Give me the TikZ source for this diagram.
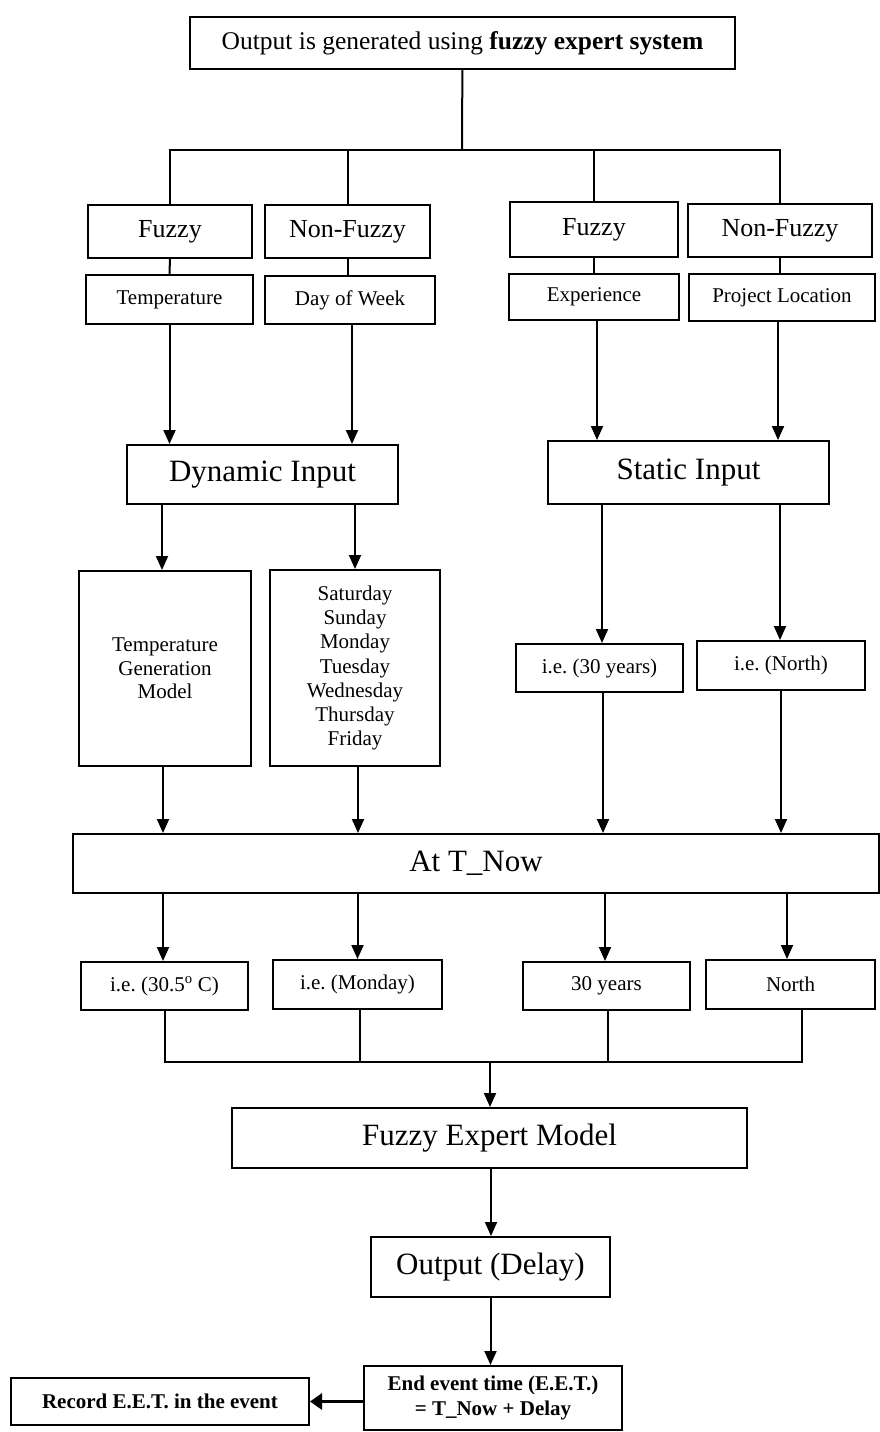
\documentclass[tikz,border=0pt]{standalone}
\usepackage{fontspec}
\setmainfont{Liberation Serif}
\usetikzlibrary{arrows.meta}
\frenchspacing
\tikzset{
  box/.style={draw, line width=2pt, inner sep=0pt, align=center, fill=white},
  big/.style={font=\fontsize{31}{34}\selectfont},
  mid/.style={font=\fontsize{26}{30}\selectfont},
  small/.style={font=\fontsize{21}{24.3}\selectfont},
  link/.style={line width=2pt},
  arr/.style={line width=2pt, -{Triangle[length=14pt,width=12pt]}},
  thickarr/.style={line width=3pt, -{Triangle[length=12pt,width=16pt]}}
}
\begin{document}
\begin{tikzpicture}[x=1pt, y=-1pt]
\useasboundingbox (0,0) rectangle (880,1432);

% top
\node[box, font=\fontsize{25.5}{29}\selectfont, minimum width=545pt, minimum height=52pt] (top) at (462.5,43)
  {Output is generated using \textbf{fuzzy expert system}};

% categories
\node[box, mid, minimum width=164pt, minimum height=53pt] (f1) at (170,231.5) {Fuzzy};
\node[box, mid, minimum width=165pt, minimum height=53pt] (nf1) at (347.5,231.5) {Non-Fuzzy};
\node[box, mid, minimum width=168pt, minimum height=55pt] (f2) at (594,229.5) {Fuzzy};
\node[box, mid, minimum width=184pt, minimum height=53pt] (nf2) at (780,230.5) {Non-Fuzzy};

% variables
\node[box, small, minimum width=167pt, minimum height=49pt] (temp) at (169.5,299.5) {Temperature};
\node[box, small, minimum width=170pt, minimum height=48pt] (dow) at (350,300) {Day of Week};
\node[box, small, minimum width=170pt, minimum height=46pt] (exp) at (594,297) {Experience};
\node[box, small, minimum width=186pt, minimum height=47pt] (ploc) at (782,297.5) {Project Location};

% input kinds
\node[box, big, minimum width=271pt, minimum height=59pt] (dyn) at (262.5,474.5) {Dynamic Input};
\node[box, big, minimum width=281pt, minimum height=63pt] (stat) at (688.5,472.5) {Static Input};

% input sources
\node[box, font=\fontsize{21}{23.3}\selectfont, minimum width=172pt, minimum height=195pt] (tgm) at (165,668.5)
  {Temperature\\Generation\\Model};
\node[box, small, minimum width=170pt, minimum height=196pt] (days) at (355,668)
  {Saturday\\Sunday\\Monday\\Tuesday\\Wednesday\\Thursday\\Friday};
\node[box, small, minimum width=167pt, minimum height=48pt] (ie30) at (599.5,668) {i.e. (30 years)};
\node[box, small, minimum width=168pt, minimum height=49pt] (ien) at (781,665.5) {i.e. (North)};

% current time
\node[box, big, minimum width=806pt, minimum height=59pt] (now) at (476,863.5) {At T\_Now};

% sampled values
\node[box, small, minimum width=167pt, minimum height=48pt] (c305) at (164.5,986) {i.e. (30.5\textsuperscript{o} C)};
\node[box, small, minimum width=169pt, minimum height=49pt] (mon) at (357.5,984.5) {i.e. (Monday)};
\node[box, small, minimum width=167pt, minimum height=48pt] (y30) at (606.5,986) {30 years};
\node[box, small, minimum width=169pt, minimum height=49pt] (north) at (790.5,984.5) {North};

% model and output
\node[box, big, minimum width=515pt, minimum height=60pt] (fem) at (489.5,1138) {Fuzzy Expert Model};
\node[box, big, minimum width=239pt, minimum height=60pt] (out) at (490.5,1267) {Output (Delay)};
\node[box, font=\fontsize{21}{25}\selectfont\bfseries, minimum width=258pt, minimum height=64pt] (eet) at (493,1398)
  {End event time (E.E.T.)\\= T\_Now + Delay};
\node[box, font=\fontsize{21}{25}\selectfont\bfseries, minimum width=298pt, minimum height=47pt] (rec) at (160,1401.5)
  {Record E.E.T. in the event};

% tree from the top box
\coordinate (bus1) at (462,150);
\draw[link] (top) -- (bus1);
\draw[link] (f1.north) |- (bus1);
\draw[link] (nf1.north) |- (bus1);
\draw[link] (f2.north) |- (bus1);
\draw[link] (nf2.north) |- (bus1);

\draw[link] (f1) -- (temp);
\draw[link] (nf1.south) -- (nf1.south |- dow.north);
\draw[link] (f2) -- (exp);
\draw[link] (nf2.south) -- (nf2.south |- ploc.north);

% into the input kinds
\draw[arr] (temp.south) -- (temp.south |- dyn.north);
\draw[arr] ([xshift=2pt]dow.south) -- ([xshift=2pt]dow.south |- dyn.north);
\draw[arr] ([xshift=3pt]exp.south) -- ([xshift=3pt]exp.south |- stat.north);
\draw[arr] ([xshift=-4pt]ploc.south) -- ([xshift=-4pt]ploc.south |- stat.north);

% out of the input kinds
\draw[arr] ([xshift=-3pt]tgm.north |- dyn.south) -- ([xshift=-3pt]tgm.north);
\draw[arr] (days.north |- dyn.south) -- (days.north);
\draw[arr] ([xshift=2.5pt]ie30.north |- stat.south) -- ([xshift=2.5pt]ie30.north);
\draw[arr] ([xshift=-1pt]ien.north |- stat.south) -- ([xshift=-1pt]ien.north);

% into the current time box
\draw[arr] ([xshift=-2pt]tgm.south) -- ([xshift=-2pt]tgm.south |- now.north);
\draw[arr] ([xshift=3pt]days.south) -- ([xshift=3pt]days.south |- now.north);
\draw[arr] ([xshift=3.5pt]ie30.south) -- ([xshift=3.5pt]ie30.south |- now.north);
\draw[arr] (ien.south) -- (ien.south |- now.north);

% out of the current time box
\draw[arr] ([xshift=-1.5pt]c305.north |- now.south) -- ([xshift=-1.5pt]c305.north);
\draw[arr] (mon.north |- now.south) -- (mon.north);
\draw[arr] ([xshift=-1.5pt]y30.north |- now.south) -- ([xshift=-1.5pt]y30.north);
\draw[arr] ([xshift=-3.5pt]north.north |- now.south) -- ([xshift=-3.5pt]north.north);

% join into the model
\coordinate (bus2) at (490,1062);
\draw[link] (c305.south) |- (bus2);
\draw[link] ([xshift=2.5pt]mon.south) |- (bus2);
\draw[link] ([xshift=1.5pt]y30.south) |- (bus2);
\draw[link] ([xshift=11.5pt]north.south) |- (bus2);
\draw[arr] (bus2) -- (bus2 |- fem.north);

\draw[arr] ([xshift=1.5pt]fem.south) -- ([xshift=1.5pt]fem.south |- out.north);
\draw[arr] (out) -- (out.south |- eet.north);
\draw[thickarr] (eet.west |- rec.east) -- (rec.east);
\end{tikzpicture}
\end{document}
